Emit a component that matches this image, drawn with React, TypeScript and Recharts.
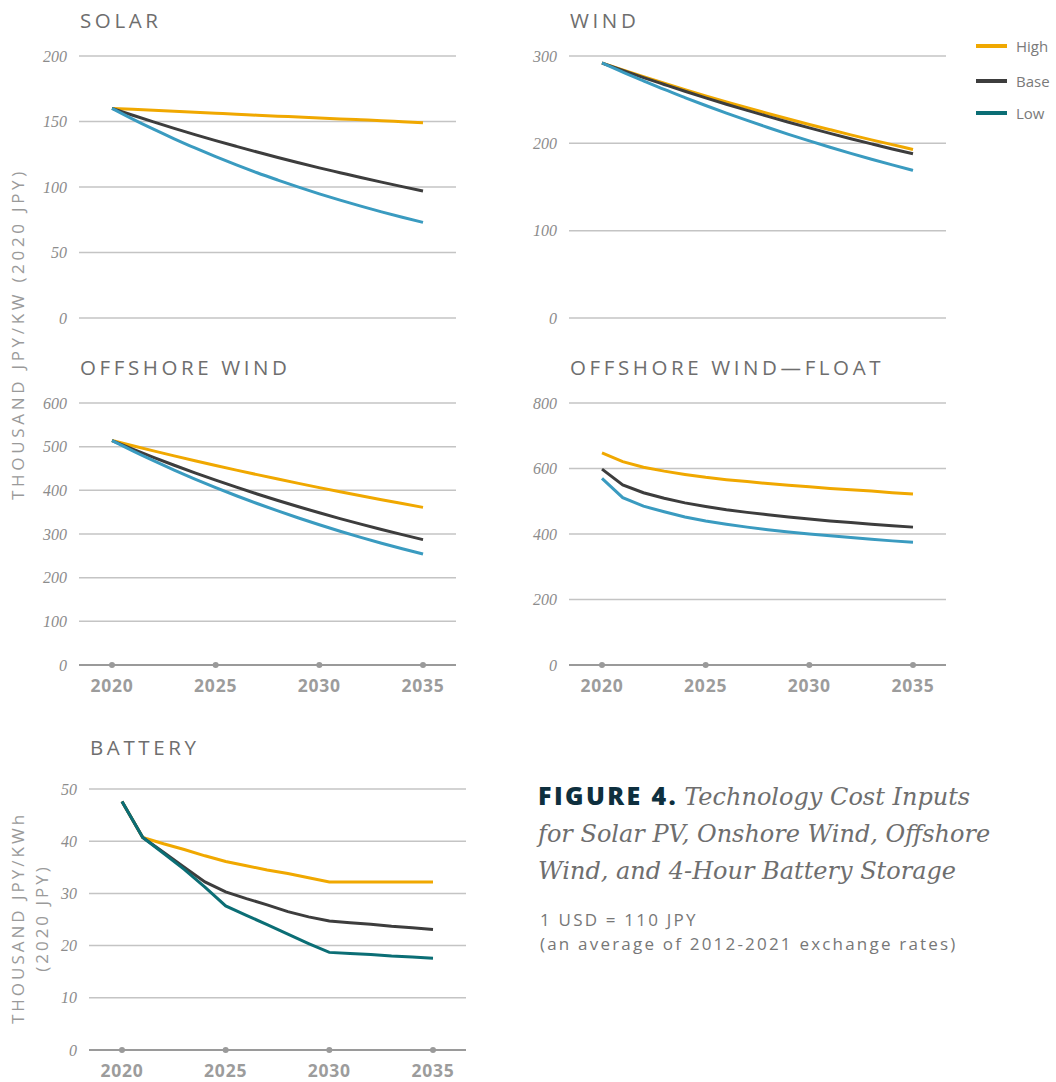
import { LineChart, Line, XAxis, YAxis, CartesianGrid, ReferenceDot } from 'recharts';

const years = [2020, 2021, 2022, 2023, 2024, 2025, 2026, 2027, 2028, 2029, 2030, 2031, 2032, 2033, 2034, 2035];
const xTicks = [2020, 2025, 2030, 2035];

const solarHigh = [160, 159.3, 158.5, 157.8, 157, 156.3, 155.6, 154.8, 154.1, 153.4, 152.7, 152, 151.3, 150.6, 149.8, 149];
const solarBase = [160, 154.8, 149.7, 144.8, 140, 135.4, 131, 126.7, 122.5, 118.5, 114.6, 110.9, 107.2, 103.7, 100.3, 97];
const solarLow = [160, 151.8, 144.1, 136.8, 129.8, 123.2, 116.9, 110.9, 105.3, 99.9, 94.8, 90, 85.4, 81, 76.9, 73];

const windHigh = [292, 284, 276.3, 268.8, 261.5, 254.4, 247.5, 240.7, 234.2, 227.8, 221.6, 215.6, 209.7, 204, 198.5, 193];
const windBase = [292, 283.6, 275.3, 267.4, 259.6, 252.1, 244.8, 237.8, 230.9, 224.2, 217.7, 211.4, 205.3, 199.4, 193.6, 188];
const windLow = [292, 281.5, 271.5, 261.7, 252.4, 243.3, 234.6, 226.2, 218.1, 210.3, 202.8, 195.5, 188.5, 181.8, 175.3, 169];

const offHigh = [514, 502, 490.4, 479, 467.8, 456.9, 446.3, 435.9, 425.8, 415.9, 406.2, 396.7, 387.5, 378.5, 369.7, 361];
const offBase = [514, 494.4, 475.6, 457.5, 440.1, 423.3, 407.2, 391.7, 376.8, 362.4, 348.6, 335.3, 322.6, 310.3, 298.5, 287];
const offLow = [514, 490.4, 467.9, 446.4, 425.9, 406.3, 387.6, 369.8, 352.8, 336.6, 321.2, 306.4, 292.4, 278.9, 266.1, 254];

const floatHigh = [648, 621, 604, 592, 582, 573, 566, 560, 554, 549, 544, 539, 535, 531, 526, 522];
const floatBase = [598, 550, 526, 509, 495, 484, 474, 466, 459, 452, 446, 440, 435, 430, 425, 421];
const floatLow = [570, 511, 485, 468, 452, 440, 430, 421, 413, 406, 400, 395, 389, 384, 379, 375];

const batteryHigh = [47.6, 40.7, 39.5, 38.4, 37.2, 36.1, 35.3, 34.5, 33.8, 33, 32.2, 32.2, 32.2, 32.2, 32.2, 32.2];
const batteryBase = [47.6, 40.7, 37.9, 35, 32.2, 30.3, 29, 27.8, 26.5, 25.5, 24.7, 24.4, 24.1, 23.7, 23.4, 23.1];
const batteryLow = [47.6, 40.7, 37.7, 34.6, 31.2, 27.6, 25.8, 24, 22.2, 20.4, 18.7, 18.5, 18.3, 18, 17.8, 17.6];

const HIGH = '#f0a800';
const BASE = '#3d3d3d';
const LOW_BLUE = '#3a9bc0';
const LOW_TEAL = '#0b6e75';
const GRID = '#c4c4c4';
const AXIS = '#9a9a9a';

const sans = '"Open Sans", Lato, sans-serif';
const serif = '"Liberation Serif", "DejaVu Serif", serif';
const captionSerif = '"DejaVu Serif", "Liberation Serif", serif';

function rows(high: number[], base: number[], low: number[]) {
  return years.map((year, i) => ({ year, high: high[i], base: base[i], low: low[i] }));
}

type PanelProps = {
  title: string;
  data: { year: number; high: number; base: number; low: number }[];
  yMax: number;
  yTicks: number[];
  lowColor: string;
  showX: boolean;
  plotLeft: number;
  plotTop: number;
  plotH: number;
  titleLeft: number;
  titleTop: number;
  curve: 'monotone' | 'linear';
};

function Panel(p: PanelProps) {
  const yW = 70;
  const plotW = 377;
  const mTop = 10;
  const mBottom = p.showX ? 0 : 12;
  const xH = p.showX ? 36 : 0;
  return (
    <>
      <div
        style={{
          position: 'absolute',
          left: p.titleLeft,
          top: p.titleTop,
          fontFamily: sans,
          fontSize: 20.5,
          lineHeight: '20px',
          letterSpacing: 3.6,
          color: '#6e6e6e',
          whiteSpace: 'nowrap',
        }}
      >
        {p.title}
      </div>
      <div style={{ position: 'absolute', left: p.plotLeft - yW, top: p.plotTop - mTop }}>
        <LineChart
          width={yW + plotW + 10}
          height={mTop + p.plotH + xH + mBottom}
          data={p.data}
          margin={{ top: mTop, right: 10, left: 0, bottom: mBottom }}
        >
          <CartesianGrid vertical={false} stroke={GRID} strokeWidth={1.5} />
          <XAxis
            dataKey="year"
            type="number"
            domain={[2020, 2035]}
            ticks={xTicks}
            padding={{ left: 33, right: 33 }}
            hide={!p.showX}
            height={xH}
            tickLine={false}
            axisLine={{ stroke: AXIS, strokeWidth: 2 }}
            tickMargin={9}
            interval={0}
            tick={{ fill: '#9c9c9c', fontFamily: sans, fontWeight: 700, fontSize: 17.5, letterSpacing: 0.8 }}
          />
          <YAxis
            domain={[0, p.yMax]}
            ticks={p.yTicks}
            width={yW}
            axisLine={false}
            tickLine={false}
            tickMargin={6}
            interval={0}
            tick={{ fill: '#8c8c8c', fontFamily: serif, fontStyle: 'italic', fontSize: 16 }}
          />
          {p.showX &&
            xTicks.map((t) => (
              <ReferenceDot key={t} x={t} y={0} r={3} fill={AXIS} stroke="none" ifOverflow="visible" />
            ))}
          <Line type={p.curve} dataKey="high" stroke={HIGH} strokeWidth={3} dot={false} isAnimationActive={false} />
          <Line type={p.curve} dataKey="base" stroke={BASE} strokeWidth={3} dot={false} isAnimationActive={false} />
          <Line type={p.curve} dataKey="low" stroke={p.lowColor} strokeWidth={3} dot={false} isAnimationActive={false} />
        </LineChart>
      </div>
    </>
  );
}

const legendItems = [
  { name: 'High', color: HIGH, y: 46 },
  { name: 'Base', color: BASE, y: 81 },
  { name: 'Low', color: LOW_TEAL, y: 113 },
];

export default function App() {
  return (
    <div style={{ position: 'absolute', left: 0, top: 0, width: 1056, height: 1082, background: '#fff', overflow: 'hidden' }}>
      <Panel title="SOLAR" data={rows(solarHigh, solarBase, solarLow)} yMax={200} yTicks={[0, 50, 100, 150, 200]}
        lowColor={LOW_BLUE} showX={false} plotLeft={79} plotTop={56} plotH={262} titleLeft={80} titleTop={10} curve="monotone" />
      <Panel title="WIND" data={rows(windHigh, windBase, windLow)} yMax={300} yTicks={[0, 100, 200, 300]}
        lowColor={LOW_BLUE} showX={false} plotLeft={569} plotTop={56} plotH={262} titleLeft={570} titleTop={10} curve="monotone" />
      <Panel title="OFFSHORE WIND" data={rows(offHigh, offBase, offLow)} yMax={600} yTicks={[0, 100, 200, 300, 400, 500, 600]}
        lowColor={LOW_BLUE} showX={true} plotLeft={79} plotTop={403} plotH={262} titleLeft={80} titleTop={357} curve="monotone" />
      <Panel title="OFFSHORE WIND—FLOAT" data={rows(floatHigh, floatBase, floatLow)} yMax={800} yTicks={[0, 200, 400, 600, 800]}
        lowColor={LOW_BLUE} showX={true} plotLeft={569} plotTop={403} plotH={262} titleLeft={570} titleTop={357} curve="linear" />
      <Panel title="BATTERY" data={rows(batteryHigh, batteryBase, batteryLow)} yMax={50} yTicks={[0, 10, 20, 30, 40, 50]}
        lowColor={LOW_TEAL} showX={true} plotLeft={89} plotTop={789} plotH={261} titleLeft={90} titleTop={737} curve="linear" />

      {legendItems.map((it) => (
        <div key={it.name} style={{ position: 'absolute', left: 976, top: it.y - 10, height: 20, display: 'flex', alignItems: 'center' }}>
          <div style={{ width: 31, height: 4, background: it.color }} />
          <span style={{ marginLeft: 9, fontFamily: sans, fontSize: 15, color: '#7a7a7a' }}>{it.name}</span>
        </div>
      ))}

      <div
        style={{
          position: 'absolute', left: 18, top: 334, transform: 'translate(-50%, -50%) rotate(-90deg)',
          fontFamily: sans, fontSize: 17, lineHeight: '20px', letterSpacing: 3.7, color: '#9a9a9a', whiteSpace: 'nowrap',
        }}
      >
        THOUSAND JPY/KW (2020 JPY)
      </div>
      <div
        style={{
          position: 'absolute', left: 30, top: 918, transform: 'translate(-50%, -50%) rotate(-90deg)',
          fontFamily: sans, fontSize: 17, lineHeight: '24px', letterSpacing: 3.0, color: '#9a9a9a',
          whiteSpace: 'nowrap', textAlign: 'center',
        }}
      >
        THOUSAND JPY/KWh
        <br />
        (2020 JPY)
      </div>

      <div style={{ position: 'absolute', left: 538, top: 777, fontSize: 24, lineHeight: '37px', whiteSpace: 'nowrap' }}>
        <div>
          <span style={{ fontFamily: sans, fontWeight: 800, fontSize: 25, letterSpacing: 2.4, color: '#0e2f3e' }}>FIGURE 4.</span>{' '}
          <span style={{ fontFamily: captionSerif, fontStyle: 'italic', color: '#6e6e6e' }}>Technology Cost Inputs</span>
        </div>
        <div style={{ fontFamily: captionSerif, fontStyle: 'italic', color: '#6e6e6e' }}>for Solar PV, Onshore Wind, Offshore</div>
        <div style={{ fontFamily: captionSerif, fontStyle: 'italic', color: '#6e6e6e' }}>Wind, and 4-Hour Battery Storage</div>
      </div>
      <div style={{ position: 'absolute', left: 540, top: 908, fontFamily: sans, fontSize: 17, lineHeight: '24px', letterSpacing: 2.2, color: '#777', whiteSpace: 'nowrap' }}>
        <div>1 USD = 110 JPY</div>
        <div>(an average of 2012-2021 exchange rates)</div>
      </div>
    </div>
  );
}
